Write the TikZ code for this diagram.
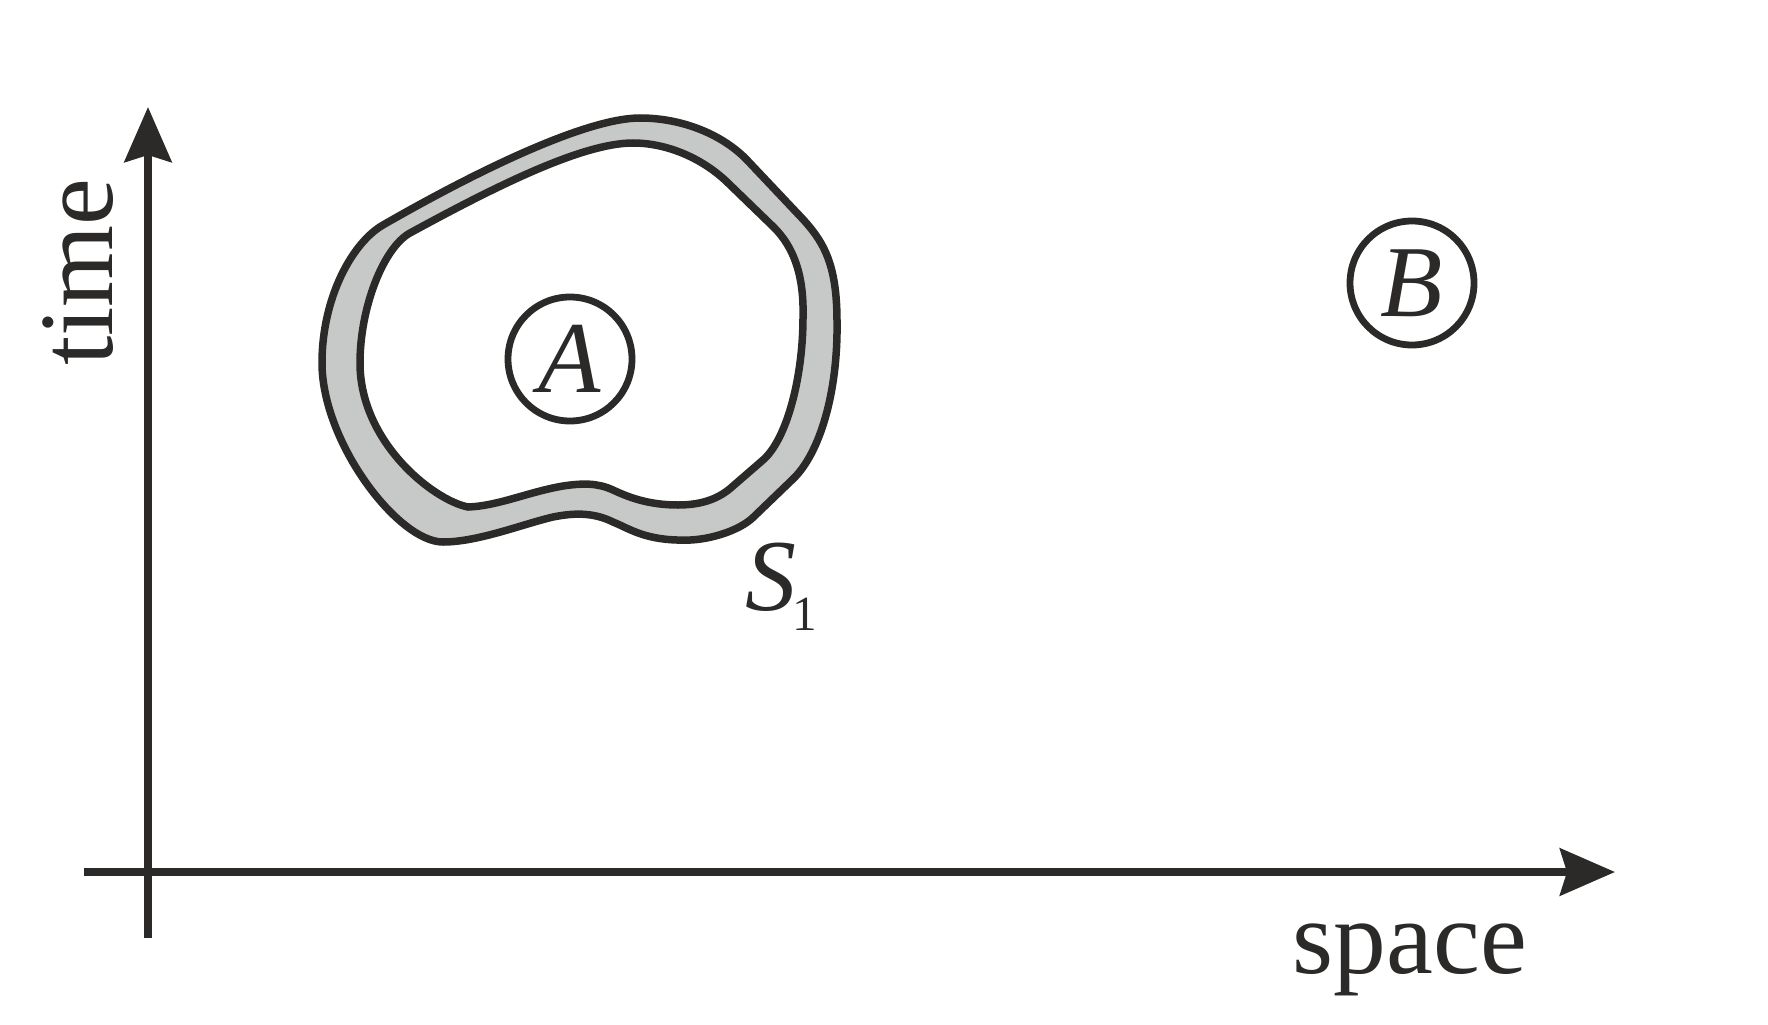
\documentclass[tikz,border=0pt]{standalone}
\usepackage{fontspec}
\setmainfont{Liberation Serif}
\usepackage{tikz}
\usetikzlibrary{arrows.meta}
\definecolor{tinte}{RGB}{43,42,40}
\definecolor{band}{RGB}{199,201,200}

\begin{document}
\begin{tikzpicture}[tinte,
	axis/.style={line width=0.78mm, -{Stealth[length=0.55cm, width=0.47cm, inset=0.07cm]}},
	rand/.style={line width=0.75mm, draw=tinte},
	punkt/.style={circle, draw, line width=0.68mm, minimum size=1.24cm, inner sep=0pt, font=\fontsize{29}{34}\selectfont\itshape}]

	\useasboundingbox (-1.48,-1.52) rectangle (16.2,8.72);

	% region with its boundary layer
	\path[rand, fill=band] (2.35,6.47) .. controls (3.35,7.045) and (4.40,7.54) .. (4.92,7.54)
		.. controls (5.35,7.54) and (5.75,7.37) .. (5.99,7.12)
		-- (6.50,6.58)
		.. controls (6.75,6.32) and (6.89,6.10) .. (6.89,5.50)
		.. controls (6.90,4.80) and (6.72,4.19) .. (6.45,3.93)
		-- (6.05,3.545)
		.. controls (5.92,3.42) and (5.60,3.30) .. (5.29,3.32)
		.. controls (4.95,3.33) and (4.80,3.44) .. (4.65,3.50)
		.. controls (4.45,3.60) and (4.25,3.59) .. (4.05,3.55)
		.. controls (3.75,3.48) and (3.30,3.30) .. (2.95,3.30)
		.. controls (2.50,3.30) and (1.74,4.30) .. (1.74,5.09)
		.. controls (1.74,5.75) and (2.047,6.296) .. cycle;
	\path[rand, fill=white] (2.62,6.39) .. controls (3.50,6.87) and (4.35,7.29) .. (4.85,7.29)
		.. controls (5.20,7.29) and (5.55,7.13) .. (5.79,6.90)
		-- (6.25,6.455)
		.. controls (6.466,6.246) and (6.56,5.95) .. (6.55,5.55)
		.. controls (6.55,4.95) and (6.39,4.33) .. (6.15,4.12)
		-- (5.85,3.86)
		.. controls (5.72,3.74) and (5.55,3.67) .. (5.30,3.67)
		.. controls (5.00,3.67) and (4.80,3.75) .. (4.65,3.82)
		.. controls (4.50,3.89) and (4.35,3.89) .. (4.15,3.86)
		.. controls (3.80,3.80) and (3.50,3.66) .. (3.20,3.65)
		.. controls (2.85,3.72) and (2.12,4.30) .. (2.12,5.09)
		.. controls (2.12,5.65) and (2.357,6.245) .. cycle;

	\draw[axis] (-0.64,0) -- (14.67,0);
	\draw[axis] (0,-0.66) -- (0,7.65);
	\node[rotate=90, anchor=base, font=\fontsize{30}{36}\selectfont] (time) at (-0.35,6.0) {time};
	\node[anchor=base, font=\fontsize{30}{36}\selectfont] (space) at (12.62,-1.01) {space};

	\node[punkt] (A) at (4.22,5.13) {A};
	\node[punkt] (B) at (12.64,5.89) {B};
	\node[anchor=base west, inner sep=0pt, font=\fontsize{29}{34}\selectfont] (s1) at (5.97,2.62) {\textit{S}\kern-0.04cm\raisebox{-0.2cm}{\fontsize{14}{16}\selectfont 1}};

\end{tikzpicture}
\end{document}
